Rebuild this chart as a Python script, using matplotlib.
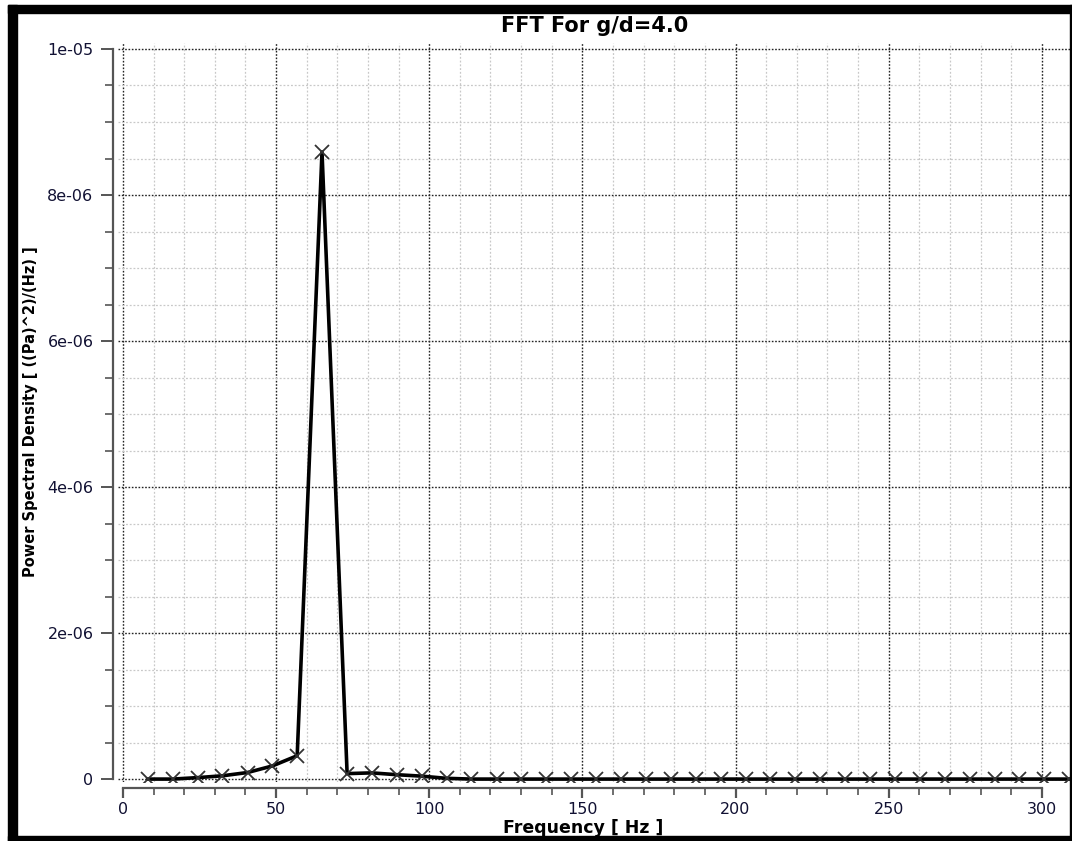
import matplotlib
matplotlib.use("Agg")
import matplotlib.pyplot as plt
from matplotlib.patches import Rectangle
from matplotlib.ticker import MultipleLocator

# -------------------------------------------------------------------
# Data (g/d = 4.0)
# -------------------------------------------------------------------
freq_hz = [8.1, 16.3, 24.4, 32.5, 40.7, 48.8, 56.9, 65.0, 73.2, 81.3,
           89.4, 97.6, 105.7, 113.8, 122.0, 130.1, 138.2, 146.3, 154.5, 162.6,
           170.7, 178.9, 187.0, 195.1, 203.3, 211.4, 219.5, 227.6, 235.8, 243.9,
           252.0, 260.2, 268.3, 276.4, 284.6, 292.7, 300.8, 308.9]
psd = [0.0, 0.0, 0.02e-6, 0.045e-6, 0.09e-6, 0.18e-6, 0.32e-6, 8.59e-6, 0.075e-6, 0.085e-6,
       0.06e-6, 0.04e-6, 0.01e-6, 0.0, 0.0, 0.0, 0.0, 0.0, 0.0, 0.0,
       0.0, 0.0, 0.0, 0.0, 0.0, 0.0, 0.0, 0.0, 0.0, 0.0,
       0.0, 0.0, 0.0, 0.0, 0.0, 0.0, 0.0, 0.0]

x_ticks = [0, 50, 100, 150, 200, 250, 300]
y_ticks = [0, 2e-6, 4e-6, 6e-6, 8e-6, 1e-5]
y_tick_labels = ["0", "2e-06", "4e-06", "6e-06", "8e-06", "1e-05"]

W, H = 1072, 841
fig = plt.figure(figsize=(W / 100, H / 100), dpi=100)

# axes box in pixels (left, top, right, bottom)
L, T, R, B = 118, 43, 1070, 782
ax = fig.add_axes([L / W, 1 - B / H, (R - L) / W, (B - T) / H])

ax.plot(freq_hz, psd, color="black", lw=2.6, marker="x", ms=9.5,
        mew=1.3, mec="#333333", clip_on=True, zorder=5)

ax.set_xlim(-1.6, 309.2)
ax.set_ylim(-0.04e-6, 1.0082e-5)

ax.set_xticks(x_ticks)
ax.set_yticks(y_ticks)
ax.set_yticklabels(y_tick_labels)
ax.xaxis.set_minor_locator(MultipleLocator(10))
ax.yaxis.set_minor_locator(MultipleLocator(0.5e-6))

# grid
ax.grid(which="major", color="#222222", linestyle=(0, (1.2, 1.2)), lw=1.0)
ax.grid(which="minor", color="#c8c8c8", linestyle=(0, (1.5, 1.5)), lw=0.9)
ax.set_axisbelow(True)

# spines: only left and bottom, offset outward
for s in ["top", "right"]:
    ax.spines[s].set_visible(False)
ax.spines["left"].set_position(("outward", 3.6))
ax.spines["bottom"].set_position(("outward", 4.3))
ax.spines["left"].set_bounds(0, 1e-5)
ax.spines["bottom"].set_bounds(0, 300)
for s in ["left", "bottom"]:
    ax.spines[s].set_color("#555555")
    ax.spines[s].set_linewidth(1.6)

ax.tick_params(axis="y", which="major", length=8.6, width=1.4, color="#555555",
               pad=5.5, labelsize=11.5, labelcolor="#111133")
ax.tick_params(axis="y", which="minor", length=5.8, width=1.2, color="#555555")
ax.tick_params(axis="x", which="major", length=7.5, width=1.6, color="#555555",
               pad=2.5, labelsize=11.5, labelcolor="#111133")
ax.tick_params(axis="x", which="minor", length=5.0, width=1.2, color="#555555")

fig.text(595 / W, 1 - 26 / H, "FFT For g/d=4.0", ha="center", va="center",
         fontsize=15, fontweight="bold")
fig.text(583 / W, 1 - 828 / H, "Frequency [ Hz ]", ha="center", va="center",
         fontsize=12.5, fontweight="bold")
fig.text(31 / W, 1 - 412 / H, "Power Spectral Density [ ((Pa)^2)/(Hz) ]",
         ha="center", va="center", rotation=90, fontsize=10.5, fontweight="bold")

# thick black frame around the figure (right side is cut thin)
frame = [(8, 5, 1064, 8), (8, 5, 9, 836), (8, 836, 1064, 5), (1070, 5, 2, 836)]
for x0, y0, w, h in frame:
    fig.patches.append(Rectangle((x0 / W, 1 - (y0 + h) / H), w / W, h / H,
                                 transform=fig.transFigure, color="black",
                                 zorder=10))

fig.savefig("out.png", dpi=100)
